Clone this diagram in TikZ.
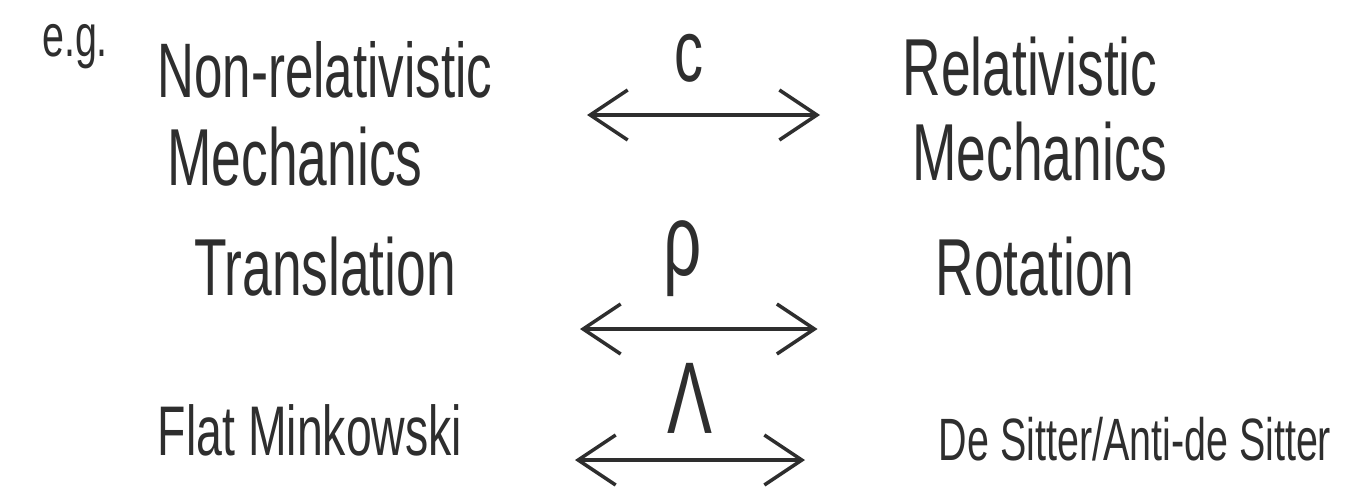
\documentclass[tikz,border=0pt]{standalone}
\usepackage{fontspec}
\newfontfamily\handfont[FakeStretch=0.66]{Liberation Sans}
\usetikzlibrary{arrows.meta}
\definecolor{ink}{HTML}{2E2E2E}

\begin{document}
\begin{tikzpicture}[
  word/.style={font=\handfont\fontsize{46}{52}\selectfont, ink, inner sep=0pt, anchor=base},
  wordsm/.style={word, font=\handfont\fontsize{34}{40}\selectfont},
  param/.style={font=\handfont\fontsize{58}{64}\selectfont, ink, inner sep=0pt, anchor=base},
  dual/.style={ink, line width=2pt, {Straight Barb[length=7.5mm,width=10mm]}-{Straight Barb[length=7.5mm,width=10mm]}}
]
  \useasboundingbox (0,0) rectangle (27,-9.78);

  \node[word, font=\handfont\fontsize{34}{40}\selectfont] (eg) at (1.5,-1.12) {e.g.};

  % Row 1: mechanics
  \node[word, font=\handfont\fontsize{44}{50}\selectfont] (nonrel) at (6.5,-1.94) {Non-relativistic};
  \node[word] (nonrelmech) at (5.9,-3.7) {Mechanics};
  \node[word] (rel) at (20.6,-1.9) {Relativistic};
  \node[word] (relmech) at (20.8,-3.6) {Mechanics};
  \coordinate (mechL) at (11.74,-2.3);
  \coordinate (mechR) at (16.4,-2.3);
  \draw[dual] (mechL) -- (mechR);
  \node[param, font=\handfont\fontsize{50}{56}\selectfont] (clab) at (13.78,-1.62) {c};

  % Row 2: motions
  \node[word] (transl) at (6.5,-5.9) {Translation};
  \node[word] (rot) at (20.7,-5.9) {Rotation};
  \coordinate (motL) at (11.6,-6.58);
  \coordinate (motR) at (16.35,-6.58);
  \draw[dual] (motL) -- (motR);
  \node[param] (rholab) at (13.66,-5.5) {ρ};

  % Row 3: spacetimes
  \node[word, font=\handfont\fontsize{40}{46}\selectfont] (flat) at (6.2,-9.1) {Flat Minkowski};
  \node[wordsm] (desitter) at (22.7,-9.2) {De Sitter/Anti-de Sitter};
  \coordinate (stL) at (11.5,-9.2);
  \coordinate (stR) at (16.1,-9.2);
  \draw[dual] (stL) -- (stR);
  \node[param] (lamlab) at (13.8,-8.66) {Λ};
\end{tikzpicture}
\end{document}
